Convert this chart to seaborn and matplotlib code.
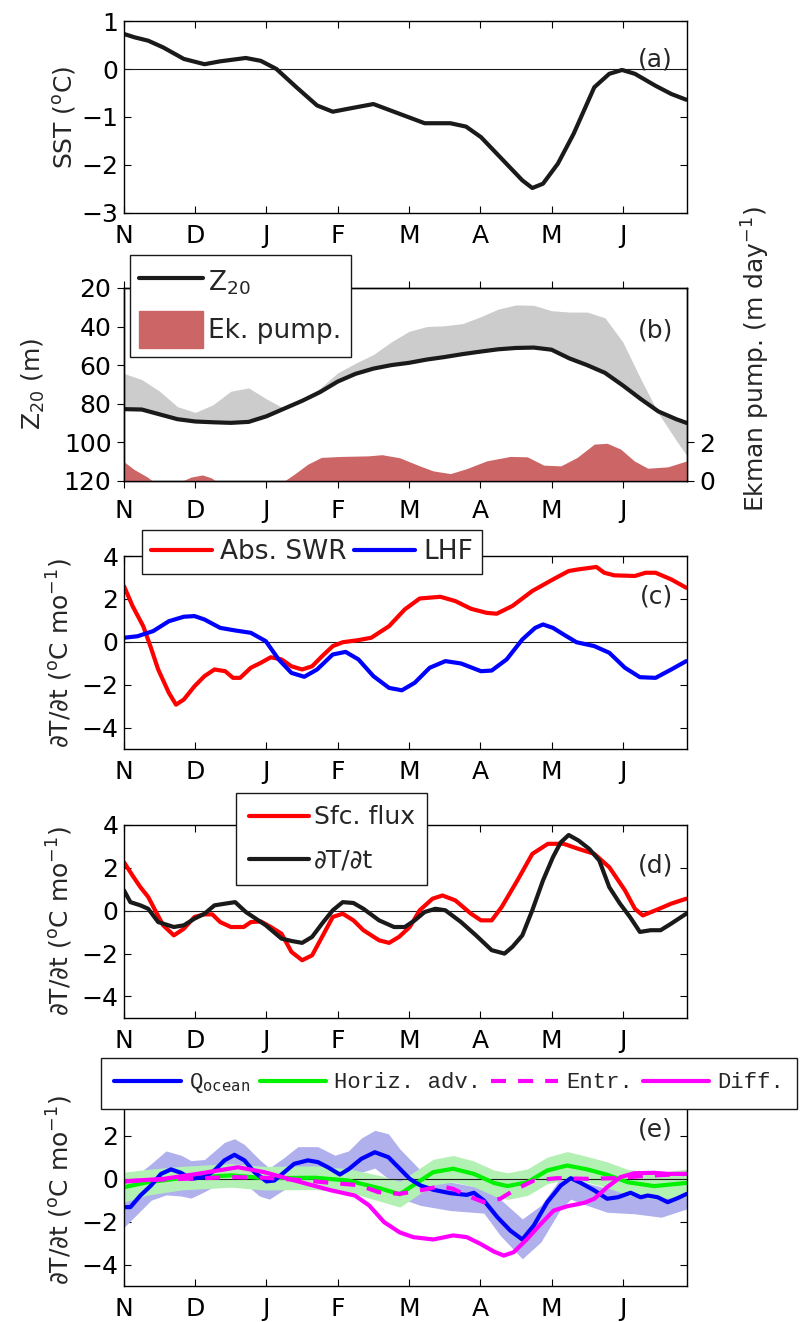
import matplotlib
matplotlib.use("Agg")
import matplotlib.pyplot as plt
import seaborn as sns
from matplotlib.lines import Line2D
from matplotlib.patches import Patch

# ---- datos (x en meses desde el 1 de noviembre) ----
month_labels = ["N", "D", "J", "F", "M", "A", "M", "J"]

# (a) SST
sst_m = [0, 0.15, 0.34, 0.55, 0.84, 1.13, 1.35, 1.71, 1.92, 2.14, 2.42, 2.71, 2.93, 3.14, 3.5, 3.86,
         4.22, 4.58, 4.8, 5.01, 5.3, 5.59, 5.73, 5.88, 6.09, 6.31, 6.6, 6.81, 6.99, 7.17, 7.46, 7.68, 7.89]
sst = [0.73, 0.66, 0.59, 0.45, 0.21, 0.10, 0.16, 0.23, 0.17, 0.0, -0.38, -0.76, -0.89, -0.83, -0.73, -0.93,
       -1.13, -1.13, -1.2, -1.42, -1.87, -2.32, -2.48, -2.39, -1.97, -1.35, -0.38, -0.10, -0.02, -0.10, -0.35, -0.52, -0.64]

# (b) Z20, borde sombreado gris y bombeo de Ekman
zb_m = [0, 0.25, 0.5, 0.75, 1.0, 1.25, 1.5, 1.75, 2.0, 2.25, 2.5, 2.75, 3.0, 3.25, 3.5, 3.75, 4.0,
        4.25, 4.5, 4.75, 5.0, 5.25, 5.5, 5.75, 6.0, 6.25, 6.5, 6.75, 7.0, 7.25, 7.5, 7.75, 7.9]
z20 = [82.8, 83.0, 85.5, 88.0, 89.2, 89.6, 89.9, 89.4, 86.5, 82.5, 78.5, 74.0, 68.5, 64.5, 61.8, 60.0, 58.8,
       57.1, 55.8, 54.3, 53.0, 51.8, 51.1, 50.9, 52.0, 56.5, 60.0, 64.0, 70.5, 77.5, 84.0, 88.0, 90.0]
z20_gris = [64.3, 67.5, 73.5, 81.5, 84.5, 80.5, 73.5, 71.8, 77.5, 82.5, 77.5, 72.0, 64.0, 59.0, 54.5, 48.0, 42.5,
            40.0, 39.6, 38.5, 35.0, 31.0, 28.8, 29.0, 31.8, 32.5, 32.5, 35.5, 48.0, 67.0, 85.0, 99.0, 107.0]
ek_m = [0, 0.14, 0.33, 0.4, 0.82, 0.94, 1.1, 1.22, 1.29, 2.25, 2.39, 2.58, 2.77, 3.05, 3.43, 3.62, 3.87,
        4.15, 4.34, 4.58, 4.81, 5.09, 5.42, 5.66, 5.89, 6.13, 6.36, 6.6, 6.78, 6.97, 7.16, 7.35, 7.63, 7.9]
ek = [1.0, 0.6, 0.2, 0, 0, 0.2, 0.31, 0.17, 0, 0, 0.35, 0.87, 1.22, 1.27, 1.3, 1.36, 1.2,
      0.78, 0.52, 0.38, 0.64, 1.04, 1.27, 1.25, 0.82, 0.78, 1.22, 1.91, 1.95, 1.65, 1.04, 0.66, 0.73, 1.04]

# (c) Abs. SWR y LHF
swr_m = [0, 0.12, 0.27, 0.37, 0.48, 0.63, 0.73, 0.84, 0.99, 1.13, 1.27, 1.42, 1.53, 1.63, 1.78, 1.92,
         2.06, 2.21, 2.35, 2.5, 2.64, 2.78, 2.93, 3.07, 3.29, 3.47, 3.72, 3.94, 4.15, 4.44, 4.65, 4.87,
         5.09, 5.23, 5.45, 5.73, 6.02, 6.24, 6.38, 6.63, 6.74, 6.88, 7.17, 7.32, 7.46, 7.68, 7.89]
swr = [2.6, 1.67, 0.73, -0.2, -1.29, -2.38, -2.93, -2.69, -2.07, -1.6, -1.29, -1.37, -1.68, -1.68, -1.21, -0.98,
       -0.72, -0.82, -1.14, -1.29, -1.14, -0.67, -0.2, -0.02, 0.08, 0.19, 0.73, 1.51, 2.02, 2.1, 1.9, 1.54,
       1.35, 1.31, 1.67, 2.37, 2.91, 3.3, 3.38, 3.49, 3.22, 3.1, 3.07, 3.22, 3.22, 2.91, 2.52]
lhf_m = [0, 0.19, 0.41, 0.63, 0.84, 0.99, 1.13, 1.35, 1.56, 1.78, 1.99, 2.17, 2.35, 2.53, 2.71, 2.93,
         3.11, 3.29, 3.5, 3.72, 3.9, 4.08, 4.29, 4.51, 4.73, 5.01, 5.16, 5.37, 5.59, 5.77, 5.88, 6.02,
         6.17, 6.35, 6.6, 6.81, 7.03, 7.24, 7.46, 7.68, 7.89]
lhf = [0.19, 0.26, 0.5, 0.96, 1.17, 1.2, 1.04, 0.65, 0.53, 0.42, 0.03, -0.82, -1.45, -1.63, -1.29, -0.59,
       -0.47, -0.82, -1.6, -2.15, -2.26, -1.91, -1.21, -0.9, -1.01, -1.37, -1.34, -0.82, 0.11, 0.65, 0.81, 0.65,
       0.34, -0.02, -0.2, -0.51, -1.21, -1.65, -1.68, -1.29, -0.9]

# (d) flujo superficial y dT/dt
sfc_m = [0, 0.12, 0.23, 0.34, 0.45, 0.55, 0.70, 0.84, 0.99, 1.13, 1.24, 1.35, 1.5, 1.68, 1.78, 1.92, 2.06,
         2.21, 2.35, 2.5, 2.64, 2.78, 2.93, 3.07, 3.22, 3.36, 3.58, 3.72, 3.86, 4.01, 4.15, 4.33, 4.47,
         4.65, 4.87, 5.01, 5.16, 5.3, 5.52, 5.73, 5.95, 6.17, 6.38, 6.6, 6.81, 7.03, 7.17, 7.28, 7.46, 7.68, 7.89]
sfc = [2.26, 1.64, 1.1, 0.64, -0.06, -0.68, -1.15, -0.84, -0.29, -0.17, -0.17, -0.53, -0.76, -0.76, -0.53, -0.5, -0.76,
       -1.07, -1.92, -2.31, -2.08, -1.22, -0.29, -0.14, -0.45, -0.91, -1.38, -1.5, -1.22, -0.76, 0.02, 0.56, 0.71,
       0.48, -0.14, -0.45, -0.45, 0.17, 1.41, 2.65, 3.12, 3.12, 2.88, 2.65, 2.03, 0.95, 0.09, -0.22, 0.02, 0.33, 0.56]
dtdt_m = [0, 0.09, 0.23, 0.34, 0.48, 0.70, 0.84, 0.99, 1.13, 1.27, 1.42, 1.56, 1.71, 1.85, 1.99, 2.21, 2.35,
          2.5, 2.64, 2.78, 2.93, 3.07, 3.22, 3.36, 3.58, 3.79, 3.94, 4.08, 4.22, 4.37, 4.51, 4.73, 4.94,
          5.16, 5.34, 5.45, 5.59, 5.73, 5.88, 6.02, 6.13, 6.24, 6.38, 6.53, 6.67, 6.81, 6.96, 7.1, 7.24,
          7.39, 7.53, 7.68, 7.89]
dtdt = [0.95, 0.4, 0.25, 0.09, -0.53, -0.76, -0.68, -0.37, -0.14, 0.25, 0.33, 0.4, -0.06, -0.37, -0.68, -1.3, -1.41,
        -1.5, -1.22, -0.6, 0.02, 0.4, 0.36, 0.09, -0.45, -0.76, -0.76, -0.45, -0.06, 0.09, 0.02, -0.53, -1.15,
        -1.84, -2.0, -1.69, -1.15, 0.02, 1.41, 2.5, 3.19, 3.53, 3.27, 2.88, 2.34, 1.1, 0.33, -0.29, -0.99,
        -0.91, -0.91, -0.6, -0.14]

# (e) terminos oceanicos
q_m = [0, 0.09, 0.23, 0.38, 0.52, 0.66, 0.8, 0.94, 1.13, 1.27, 1.41, 1.55, 1.69, 1.83, 2.0, 2.11, 2.25,
       2.39, 2.58, 2.72, 2.86, 3.03, 3.15, 3.33, 3.52, 3.71, 3.85, 4.01, 4.16, 4.34, 4.58, 4.81, 4.91,
       5.05, 5.24, 5.42, 5.59, 5.75, 5.94, 6.13, 6.27, 6.41, 6.6, 6.78, 6.93, 7.11, 7.25, 7.35, 7.49,
       7.63, 7.77, 7.9]
q_ocean = [-1.32, -1.32, -0.78, -0.31, 0.23, 0.44, 0.28, 0.0, 0.08, 0.39, 0.86, 1.12, 0.86, 0.31, -0.12, -0.08, 0.31,
           0.7, 0.86, 0.78, 0.54, 0.2, 0.44, 0.93, 1.24, 1.01, 0.54, 0.0, -0.31, -0.51, -0.67, -0.75, -0.65,
           -1.01, -1.79, -2.41, -2.83, -2.18, -1.09, -0.31, 0.03, -0.19, -0.54, -0.93, -0.86, -0.65, -0.86, -0.78, -0.86,
           -1.09, -0.9, -0.7]
qs_m = [0, 0.23, 0.38, 0.59, 0.8, 0.94, 1.13, 1.41, 1.55, 1.69, 1.9, 2.04, 2.25, 2.44, 2.72, 2.96, 3.15,
        3.33, 3.52, 3.71, 3.87, 4.16, 4.58, 5.05, 5.28, 5.59, 5.85, 6.13, 6.27, 6.5, 6.78, 7.16, 7.54, 7.9]
q_hi = [-0.5, 0.3, 0.7, 1.3, 1.1, 0.85, 0.9, 1.7, 1.87, 1.6, 0.9, 0.5, 1.0, 1.5, 1.5, 1.1, 1.3,
        1.9, 2.26, 2.1, 1.4, 0.4, -0.15, -0.45, -0.95, -1.87, -1.24, 0.05, 0.15, -0.2, -0.45, -0.3, -0.45, -0.2]
q_lo = [-2.26, -1.5, -1.0, -0.75, -0.8, -0.9, -0.6, -0.1, 0.1, -0.2, -0.8, -0.95, -0.5, -0.1, 0.0, -0.35, -0.2,
        0.3, 0.5, 0.0, -0.9, -1.24, -1.48, -1.6, -2.64, -3.73, -2.95, -1.4, -0.95, -1.24, -1.56, -1.63, -1.79, -1.4]
adv_m = [0, 0.33, 0.8, 1.5, 1.97, 2.68, 3.15, 3.62, 3.87, 4.11, 4.34, 4.62, 4.91, 5.19, 5.38, 5.66,
         5.94, 6.22, 6.5, 6.78, 7.07, 7.44, 7.9]
adv = [-0.39, -0.16, 0.03, 0.16, 0.03, 0.05, -0.08, -0.47, -0.72, -0.19, 0.31, 0.47, 0.23, -0.19, -0.34, -0.16,
       0.39, 0.62, 0.44, 0.19, -0.16, -0.34, -0.19]
adv_err = [0.7, 0.6, 0.55, 0.55, 0.55, 0.55, 0.55, 0.6, 0.6, 0.6, 0.6, 0.62, 0.6, 0.6, 0.62, 0.62,
           0.62, 0.65, 0.6, 0.6, 0.6, 0.6, 0.65]
ent_m = [0, 0.56, 1.03, 1.5, 1.97, 2.44, 2.91, 3.3, 3.57, 3.87, 4.16, 4.44, 4.62, 4.81, 5.05, 5.28,
         5.47, 5.75, 6.08, 6.5, 6.88, 7.25, 7.63, 7.9]
ent = [-0.12, -0.03, 0.02, 0.08, 0.05, -0.05, -0.19, -0.3, -0.62, -0.7, -0.54, -0.34, -0.47, -0.78, -1.09, -0.93,
       -0.54, -0.08, 0.03, 0.0, 0.03, 0.12, 0.19, 0.23]
dif_m = [0, 0.56, 1.03, 1.6, 1.97, 2.44, 2.91, 3.24, 3.44, 3.65, 3.87, 4.06, 4.34, 4.62, 4.81, 5.0,
         5.19, 5.33, 5.47, 5.66, 5.85, 6.03, 6.22, 6.46, 6.6, 6.78, 6.97, 7.16, 7.44, 7.63, 7.9]
dif = [-0.12, 0.0, 0.23, 0.54, 0.31, -0.12, -0.54, -0.78, -1.24, -2.02, -2.5, -2.72, -2.83, -2.64, -2.72, -3.03,
       -3.39, -3.58, -3.42, -2.8, -2.1, -1.48, -1.28, -1.12, -0.93, -0.39, 0.08, 0.26, 0.28, 0.23, 0.23]

# ---- estilo ----
sns.set_theme(style="ticks", rc={"axes.edgecolor": "black", "xtick.color": "black",
                                 "ytick.color": "black", "axes.linewidth": 1.0})
plt.rcParams["font.family"] = ["DejaVu Sans"]
plt.rcParams["mathtext.default"] = "regular"
FS = 18
FS_LEG = 19
ek_color = (0.8, 0.4, 0.4)
ylab_dt = "\u2202T/\u2202t ($^{o}$C mo$^{-1}$)"

fig = plt.figure(figsize=(8.04, 13.22), dpi=100)
L, W, H = 0.1542, 0.7002, 0.146
ax_a = fig.add_axes([L, 0.8389, W, 0.1452])
ax_b = fig.add_axes([L, 0.6362, W, H])
ax_c = fig.add_axes([L, 0.4334, W, H])
ax_d = fig.add_axes([L, 0.2300, W, H])
ax_e = fig.add_axes([L, 0.0272, W, H])


def base(ax, direction="in"):
    ax.set_xlim(0, 7.9)
    ax.set_xticks(range(8))
    ax.set_xticklabels(month_labels)
    ax.tick_params(axis="both", direction=direction, length=5, width=0.8, top=True, right=True,
                   labelsize=FS)
    ax.tick_params(axis="x", pad=8)
    ax.tick_params(axis="y", pad=4)
    for s in ax.spines.values():
        s.set_linewidth(1.0)
    ax.set_xlabel("")


def etiqueta(ax, txt, y):
    ax.text(0.975, y, txt, transform=ax.transAxes, ha="right", va="center", fontsize=FS)


def marco(leg):
    leg.get_frame().set_linewidth(1.0)
    leg.get_frame().set_edgecolor("k")


# (a)
ax_a.axhline(0, color="k", lw=0.8)
sns.lineplot(x=sst_m, y=sst, ax=ax_a, color="k", lw=3)
base(ax_a)
ax_a.set_ylim(-3, 1)
ax_a.set_yticks([-3, -2, -1, 0, 1])
ax_a.set_ylabel("SST ($^{o}$C)", fontsize=FS)
ax_a.yaxis.set_label_coords(-0.082, 0.5)
etiqueta(ax_a, "(a)", 0.8)

# (b)
ax_b.fill_between(zb_m, z20, z20_gris, color=(0.8, 0.8, 0.8), lw=0)
sns.lineplot(x=zb_m, y=z20, ax=ax_b, color="k", lw=3)
base(ax_b, "out")
ax_b.set_ylim(120, 20)
ax_b.set_yticks([20, 40, 60, 80, 100, 120])
ax_b.set_ylabel("Z$_{20}$ (m)", fontsize=FS)
ax_b.yaxis.set_label_coords(-0.137, 0.5)
ax2 = ax_b.twinx()
ax2.fill_between(ek_m, 0, ek, color=ek_color, lw=0)
ax2.set_ylim(0, 10)
ax2.set_yticks([0, 2])
ax2.tick_params(axis="y", direction="out", length=5, width=0.8, labelsize=FS, pad=4)
ax2.set_ylabel("Ekman pump. (m day$^{-1}$)", fontsize=FS)
ax2.yaxis.set_label_coords(1.094, 0.63)
for s in ax2.spines.values():
    s.set_linewidth(1.0)
etiqueta(ax_b, "(b)", 0.777)
leg_b = ax2.legend(handles=[Line2D([], [], color="k", lw=3), Patch(color=ek_color)],
                   labels=["Z$_{20}$", "Ek. pump."], loc="upper left", bbox_to_anchor=(0.011, 1.171),
                   borderaxespad=0, fontsize=FS_LEG, handlelength=2.4, handleheight=1.75,
                   handletextpad=0.2, labelspacing=0.4, borderpad=0.35, fancybox=False,
                   framealpha=1)
marco(leg_b)

# (c)
ax_c.axhline(0, color="k", lw=0.8)
sns.lineplot(x=swr_m, y=swr, ax=ax_c, color="red", lw=3)
sns.lineplot(x=lhf_m, y=lhf, ax=ax_c, color="blue", lw=3)
base(ax_c)
ax_c.set_ylim(-5, 4)
ax_c.set_yticks([-4, -2, 0, 2, 4])
ax_c.set_ylabel(ylab_dt, fontsize=FS)
ax_c.yaxis.set_label_coords(-0.087, 0.5)
etiqueta(ax_c, "(c)", 0.788)
leg_c = ax_c.legend(handles=[Line2D([], [], color="red", lw=3), Line2D([], [], color="blue", lw=3)],
                    labels=["Abs. SWR", "LHF"], ncol=2, loc="upper left", bbox_to_anchor=(0.032, 1.135),
                    borderaxespad=0, fontsize=FS_LEG, handlelength=2.3, handletextpad=0.3,
                    columnspacing=0.3, borderpad=0.35, fancybox=False, framealpha=1)
marco(leg_c)

# (d)
ax_d.axhline(0, color="k", lw=0.8)
sns.lineplot(x=sfc_m, y=sfc, ax=ax_d, color="red", lw=3)
sns.lineplot(x=dtdt_m, y=dtdt, ax=ax_d, color="k", lw=3)
base(ax_d)
ax_d.set_ylim(-5, 4)
ax_d.set_yticks([-4, -2, 0, 2, 4])
ax_d.set_ylabel(ylab_dt, fontsize=FS)
ax_d.yaxis.set_label_coords(-0.087, 0.5)
etiqueta(ax_d, "(d)", 0.79)
leg_d = ax_d.legend(handles=[Line2D([], [], color="red", lw=3), Line2D([], [], color="k", lw=3)],
                    labels=["Sfc. flux", "\u2202T/\u2202t"], loc="upper left", bbox_to_anchor=(0.199, 1.166),
                    borderaxespad=0, fontsize=FS, handlelength=2.4, handletextpad=0.2,
                    labelspacing=0.76, borderpad=0.5, fancybox=False, framealpha=1)
marco(leg_d)

# (e)
ax_e.fill_between(qs_m, q_lo, q_hi, color=(0.69, 0.69, 0.93), lw=0)
ax_e.fill_between(adv_m, [a - s for a, s in zip(adv, adv_err)], [a + s for a, s in zip(adv, adv_err)],
                  color=(0.7, 0.94, 0.7), lw=0)
ax_e.axhline(0, color="k", lw=0.8)
dash = (0, (3.6, 2.9))
sns.lineplot(x=adv_m, y=adv, ax=ax_e, color=(0, 0.95, 0), lw=3)
sns.lineplot(x=q_m, y=q_ocean, ax=ax_e, color="blue", lw=3)
sns.lineplot(x=ent_m, y=ent, ax=ax_e, color="magenta", lw=3, linestyle=dash)
sns.lineplot(x=dif_m, y=dif, ax=ax_e, color="magenta", lw=3)
base(ax_e)
ax_e.set_ylim(-5, 4)
ax_e.set_yticks([-4, -2, 0, 2, 4])
ax_e.set_ylabel(ylab_dt, fontsize=FS)
ax_e.yaxis.set_label_coords(-0.087, 0.5)
etiqueta(ax_e, "(e)", 0.81)
leg_e = ax_e.legend(handles=[Line2D([], [], color="blue", lw=3), Line2D([], [], color=(0, 0.95, 0), lw=3),
                             Line2D([], [], color="magenta", lw=3, ls=dash),
                             Line2D([], [], color="magenta", lw=3)],
                    labels=["Q$_{\\mathtt{ocean}}$", "Horiz. adv.", "Entr.", "Diff."], ncol=4,
                    loc="upper left", bbox_to_anchor=(-0.041, 1.181), borderaxespad=0,
                    prop={"family": "Liberation Mono", "size": 16}, handlelength=3.0,
                    handletextpad=0.35, columnspacing=0.45, borderpad=0.6, fancybox=False,
                    framealpha=1)
marco(leg_e)

fig.savefig("out.png", dpi=100)
